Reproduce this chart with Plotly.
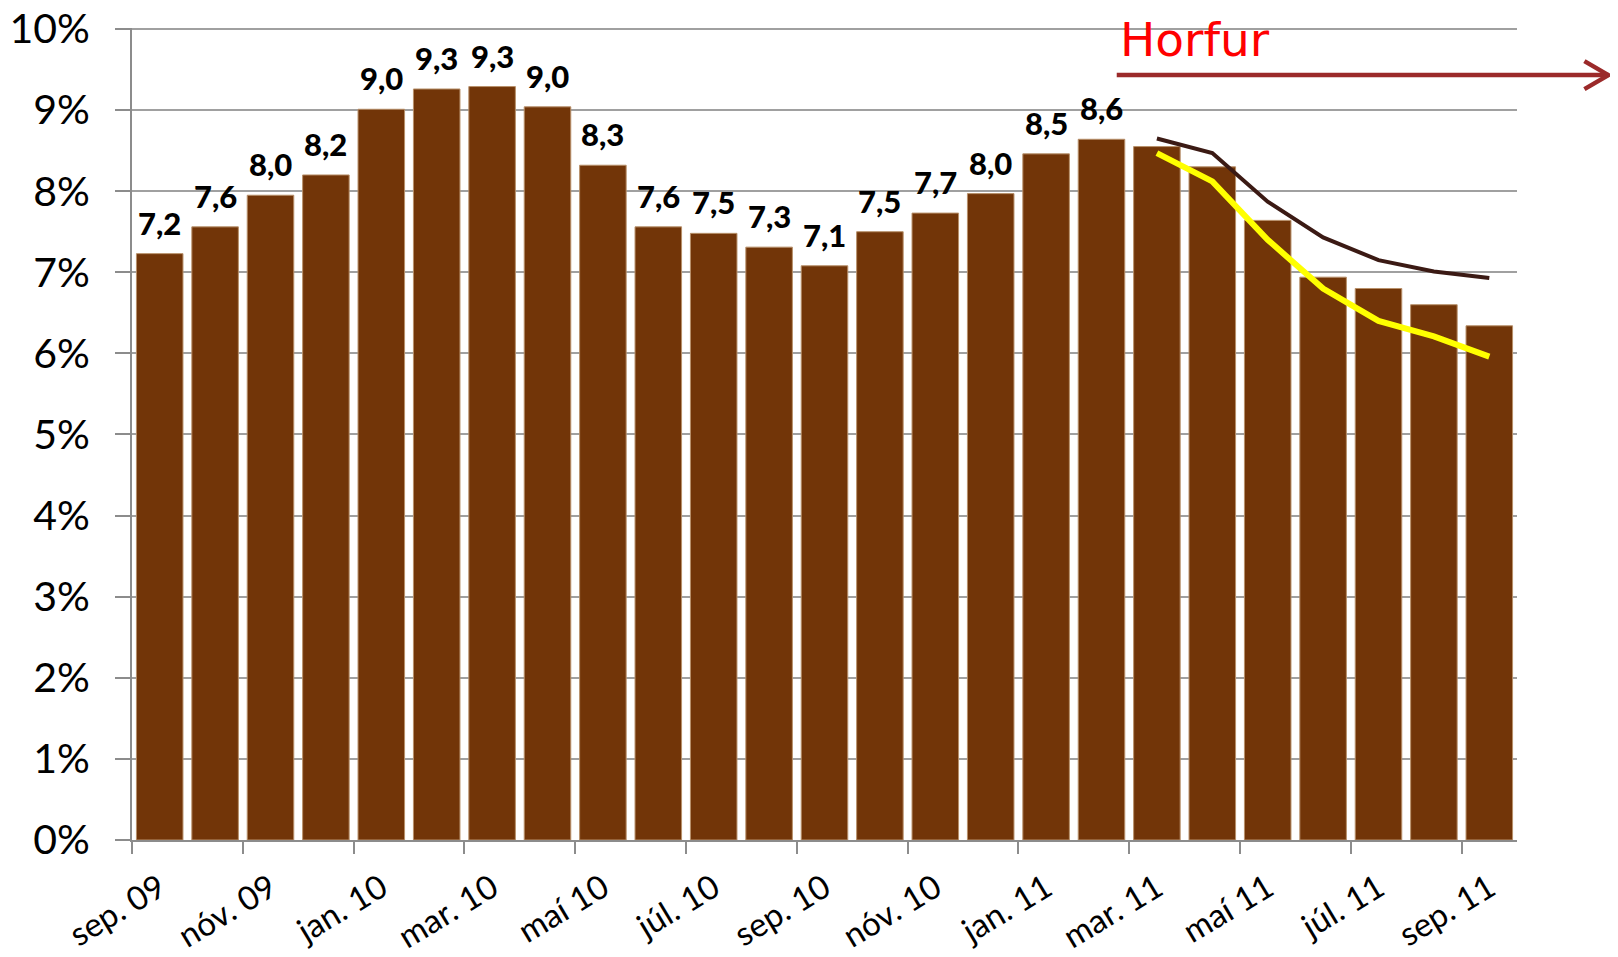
import plotly.graph_objects as go

months = ["sep. 09", "okt. 09", "nóv. 09", "des. 09", "jan. 10", "feb. 10", "mar. 10",
          "apr. 10", "maí 10", "jún. 10", "júl. 10", "ágú. 10", "sep. 10", "okt. 10",
          "nóv. 10", "des. 10", "jan. 11", "feb. 11", "mar. 11", "apr. 11", "maí 11",
          "jún. 11", "júl. 11", "ágú. 11", "sep. 11"]
values = [7.23, 7.56, 7.95, 8.20, 9.01, 9.26, 9.29, 9.04, 8.32, 7.56, 7.48, 7.31, 7.08,
          7.50, 7.73, 7.97, 8.46, 8.64, 8.55, 8.30, 7.64, 6.94, 6.80, 6.60, 6.34]
n_labelled = 18
forecast_months = ["mar. 11", "apr. 11", "maí 11", "jún. 11", "júl. 11", "ágú. 11", "sep. 11"]
forecast_upper = [8.65, 8.47, 7.87, 7.43, 7.15, 7.01, 6.93]
forecast_lower = [8.47, 8.12, 7.40, 6.80, 6.40, 6.21, 5.96]
y_ticks = [0, 1, 2, 3, 4, 5, 6, 7, 8, 9, 10]

idx = list(range(len(months)))
fx = [months.index(m) for m in forecast_months]

fig = go.Figure()
fig.add_trace(go.Bar(
    x=idx, y=values, marker=dict(color="#723508", line=dict(color="#b8906a", width=1)),
    width=0.84, showlegend=False, hoverinfo="skip"))
fig.add_trace(go.Scatter(x=fx, y=forecast_upper, mode="lines",
                         line=dict(color="#3b1a14", width=4), showlegend=False))
fig.add_trace(go.Scatter(x=fx, y=forecast_lower, mode="lines",
                         line=dict(color="#ffff00", width=6), showlegend=False))

annotations = []
for i in range(n_labelled):
    annotations.append(dict(
        x=i, y=values[i], xref="x", yref="y", yanchor="bottom", yshift=10,
        text=f"{values[i]:.1f}".replace(".", ","), showarrow=False,
        font=dict(family="Lato", size=31, color="black", weight=900)))
annotations.append(dict(
    x=0.712, y=0.949, xref="paper", yref="paper", xanchor="left", yanchor="bottom",
    text="Horfur", showarrow=False,
    font=dict(family="DejaVu Sans", size=47, color="#ff0000")))

arrow_color = "#9b2a2a"
shapes = [
    dict(type="line", xref="paper", yref="y", x0=0, x1=1, y0=y_ticks[-1], y1=y_ticks[-1],
         layer="below", line=dict(color="#a0a0a0", width=2)),
    dict(type="line", xref="paper", yref="paper", x0=0.711, x1=1.066, y0=0.942, y1=0.942,
         line=dict(color=arrow_color, width=4.5)),
    dict(type="path", xref="paper", yref="paper", xsizemode="pixel", ysizemode="pixel",
         xanchor=1.066, yanchor=0.942, path="M -24,14 L 0,0 L -24,-14",
         line=dict(color=arrow_color, width=4.5)),
]

even = [i for i in idx if i % 2 == 0]
fig.update_layout(
    width=1618, height=957,
    margin=dict(l=124, r=109, t=20, b=125),
    paper_bgcolor="white", plot_bgcolor="white",
    bargap=0.16,
    annotations=annotations, shapes=shapes,
    xaxis=dict(
        range=[-0.5, 24.5], tickmode="array", tickvals=even,
        ticktext=[months[i] for i in even], tickangle=-31, ticks="",
        showgrid=False, showline=True, linecolor="#8c8c8c", linewidth=2,
        tickfont=dict(family="Lato", size=33, color="black"),
        ticklabelstandoff=14, automargin=False,
        minor=dict(tickmode="array", tickvals=[i - 0.5 for i in even],
                   ticks="outside", ticklen=12, tickcolor="#8c8c8c", tickwidth=2, showgrid=False),
        zeroline=False),
    yaxis=dict(
        range=[0, 10.012], tickmode="array", tickvals=y_ticks,
        ticktext=[f"{t}%" for t in y_ticks],
        showgrid=True, gridcolor="#a0a0a0", gridwidth=2,
        showline=True, linecolor="#8c8c8c", linewidth=2,
        ticks="outside", ticklen=15, tickcolor="#8c8c8c", tickwidth=2,
        tickfont=dict(family="Lato", size=41, color="black"),
        ticklabeloverflow="allow",
        ticklabelstandoff=17, zeroline=False, automargin=False),
)

fig.write_html("out.html")
